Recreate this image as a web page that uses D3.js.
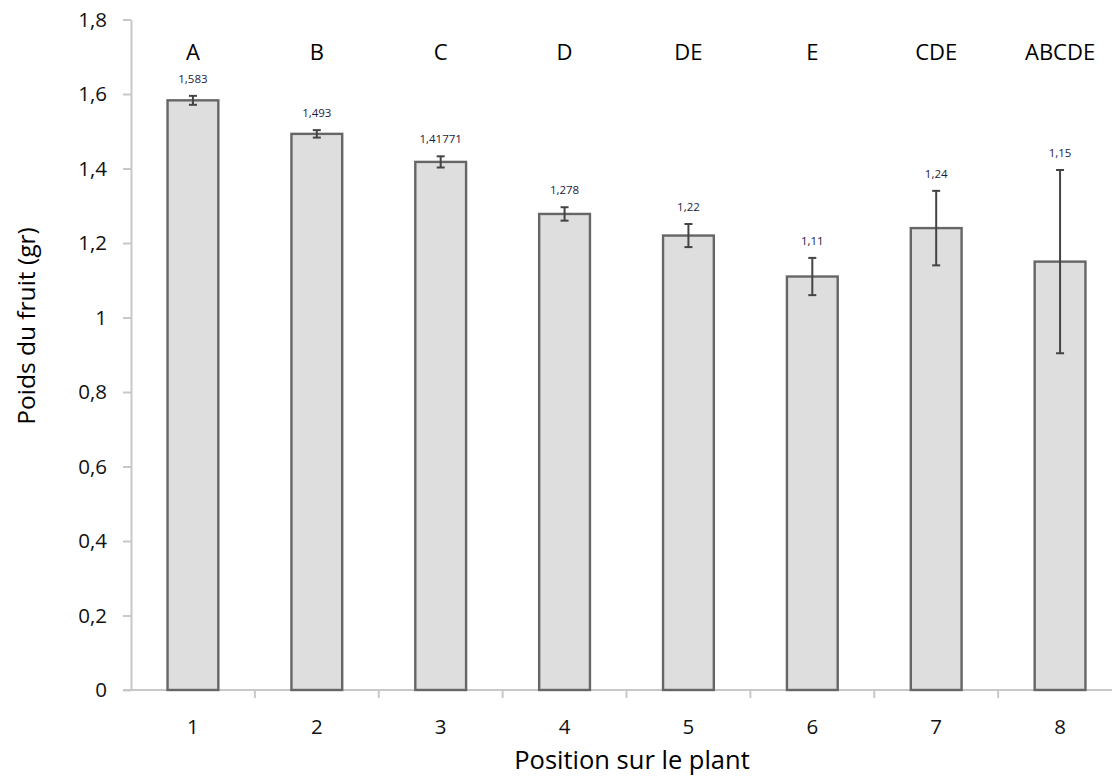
<!DOCTYPE html>
<html>
<head>
<meta charset="utf-8">
<script src="https://cdn.jsdelivr.net/npm/d3@7"></script>
<style>
  html, body { margin: 0; padding: 0; background: #fff; }
  svg { display: block; }
</style>
</head>
<body>
<svg id="chart" width="1112" height="776"></svg>
<script>
const categories = ["1", "2", "3", "4", "5", "6", "7", "8"];
const values = [1.583, 1.493, 1.41771, 1.278, 1.22, 1.11, 1.24, 1.15];
const errors = [0.012, 0.01, 0.015, 0.018, 0.031, 0.05, 0.1, 0.246];
const valueLabels = ["1,583", "1,493", "1,41771", "1,278", "1,22", "1,11", "1,24", "1,15"];
const groupLetters = ["A", "B", "C", "D", "DE", "E", "CDE", "ABCDE"];
const yTicks = [0, 0.2, 0.4, 0.6, 0.8, 1, 1.2, 1.4, 1.6, 1.8];

const FONT = "'Open Sans', sans-serif";
const svg = d3.select("#chart");

const x = d3.scaleBand().domain(categories).range([131, 1122]).paddingInner(0.59).paddingOuter(0.295);
const xb = d3.scaleBand().domain(categories).range([131, 1122]);
const y = d3.scaleLinear().domain([0, 1.8]).range([690, 19.5]);

const fmt = d => String(d).replace(".", ",");

// Y axis
const yAxis = svg.append("g").attr("transform", "translate(131,0)")
  .call(d3.axisLeft(y).tickValues(yTicks).tickSize(8).tickSizeOuter(0).tickFormat(fmt).tickPadding(16));
yAxis.select(".domain").attr("stroke", "#c8c8c8").attr("stroke-width", 2);
yAxis.selectAll(".tick line").attr("stroke", "#c8c8c8").attr("stroke-width", 2);
yAxis.selectAll(".tick text").attr("font-family", FONT).attr("font-size", 20.5).attr("fill", "#111");

// X axis (band boundaries as ticks)
svg.append("line").attr("x1", 123).attr("x2", 1112).attr("y1", y(0)).attr("y2", y(0))
  .attr("stroke", "#c8c8c8").attr("stroke-width", 2);
svg.append("g").selectAll("line").data(categories.slice(1)).join("line")
  .attr("x1", d => xb(d)).attr("x2", d => xb(d))
  .attr("y1", y(0)).attr("y2", y(0) + 8)
  .attr("stroke", "#c8c8c8").attr("stroke-width", 2);
svg.append("g").selectAll("text").data(categories).join("text")
  .attr("x", d => xb(d) + xb.bandwidth() / 2)
  .attr("y", y(0) + 44)
  .attr("text-anchor", "middle")
  .attr("font-family", FONT).attr("font-size", 20.5).attr("fill", "#111")
  .text(d => d);

// Bars
svg.append("g").selectAll("rect").data(categories).join("rect")
  .attr("x", d => x(d))
  .attr("y", (d, i) => y(values[i]))
  .attr("width", x.bandwidth())
  .attr("height", (d, i) => y(0) - y(values[i]))
  .attr("fill", "#dedede")
  .attr("stroke", "#666")
  .attr("stroke-width", 2.4);

// Error bars
const eg = svg.append("g").attr("stroke", "#444").attr("stroke-width", 2);
categories.forEach((d, i) => {
  const cx = x(d) + x.bandwidth() / 2;
  const top = y(values[i] + errors[i]);
  const bot = y(values[i] - errors[i]);
  eg.append("line").attr("x1", cx).attr("x2", cx).attr("y1", top).attr("y2", bot);
  eg.append("line").attr("x1", cx - 4).attr("x2", cx + 4).attr("y1", top).attr("y2", top);
  eg.append("line").attr("x1", cx - 4).attr("x2", cx + 4).attr("y1", bot).attr("y2", bot);
});

// Value labels
svg.append("g").selectAll("text").data(categories).join("text")
  .attr("x", d => x(d) + x.bandwidth() / 2)
  .attr("y", (d, i) => y(values[i] + errors[i]) - 13)
  .attr("text-anchor", "middle")
  .attr("font-family", FONT).attr("font-size", 11.5).attr("fill", "#1c1c40")
  .text((d, i) => valueLabels[i]);

// Group letters
svg.append("g").selectAll("text").data(categories).join("text")
  .attr("x", d => x(d) + x.bandwidth() / 2)
  .attr("y", 60)
  .attr("text-anchor", "middle")
  .attr("font-family", FONT).attr("font-size", 22).attr("fill", "#000")
  .text((d, i) => groupLetters[i]);

// Axis titles
svg.append("text")
  .attr("x", 632).attr("y", 769)
  .attr("text-anchor", "middle")
  .attr("font-family", FONT).attr("font-size", 25.5).attr("fill", "#000")
  .text("Position sur le plant");

svg.append("text")
  .attr("transform", "translate(35,326) rotate(-90)")
  .attr("text-anchor", "middle")
  .attr("font-family", FONT).attr("font-size", 24.5).attr("fill", "#000")
  .text("Poids du fruit (gr)");
</script>
</body>
</html>
